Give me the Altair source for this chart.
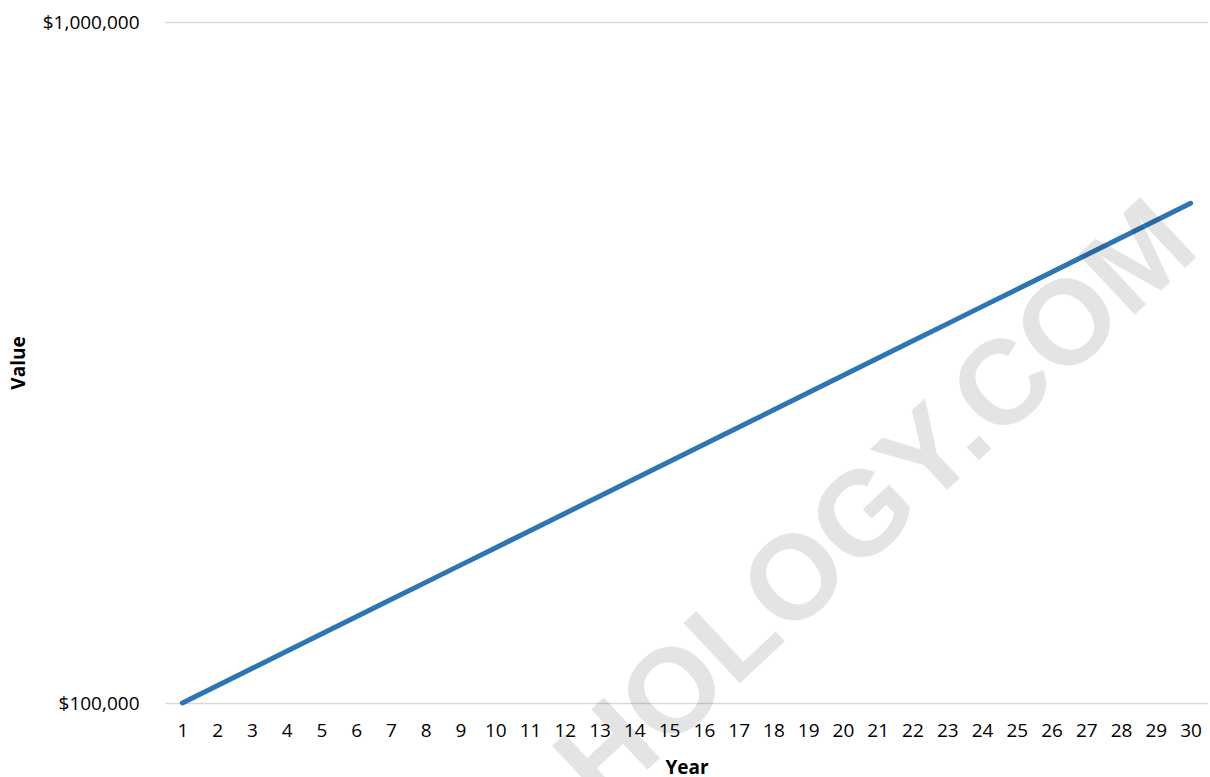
import altair as alt
import pandas as pd

years = list(range(1, 31))
values = [100000, 106000, 112360, 119102, 126248, 133823, 141852, 150363, 159385, 168948,
          179085, 189830, 201220, 213293, 226090, 239656, 254035, 269277, 285434, 302560,
          320714, 339956, 360354, 381975, 404893, 429187, 454938, 482235, 511169, 541839]
y_ticks = [100000, 1000000]

wm_text = ["HOLOGY.COM"]
wm_year = [21]
wm_value = [195000]

df = pd.DataFrame({"Year": years, "Value": values})
wm = pd.DataFrame({"Year": wm_year, "Value": wm_value, "t": wm_text})

FONT = "Open Sans"

x_enc = alt.X("Year:O", title="Year",
              scale=alt.Scale(type="point", padding=0.5, domain=years),
              axis=alt.Axis(labelAngle=0, grid=False, domain=False, ticks=False,
                            labelPadding=18, labelFontSize=19, labelFont=FONT,
                            labelColor="#000000", titleFont=FONT, titleFontSize=19,
                            titleFontWeight="bold", titleColor="#000000", titlePadding=18))
y_enc = alt.Y("Value:Q", title="Value",
              scale=alt.Scale(type="log", domain=[100000, 1000000], nice=False),
              axis=alt.Axis(values=y_ticks, format="$,.0f", grid=True, gridColor="#d9d9d9",
                            gridWidth=1.3, domain=False, ticks=False, labelPadding=26,
                            labelFontSize=19, labelFont=FONT, labelColor="#000000",
                            titleFont=FONT, titleFontSize=19, titleFontWeight="bold",
                            titleColor="#000000", titlePadding=14))

line = alt.Chart(df).mark_line(color="#2e75b6", strokeWidth=5, strokeCap="round").encode(
    x=x_enc, y=y_enc)

mark_wm = alt.Chart(wm).mark_text(
    font="Liberation Sans", fontWeight="bold", fontSize=120, angle=317,
    color="#000000", opacity=0.1, align="center", baseline="middle").encode(
    x=alt.X("Year:O", scale=alt.Scale(type="point", padding=0.5, domain=years)),
    y=alt.Y("Value:Q", scale=alt.Scale(type="log", domain=[100000, 1000000], nice=False)),
    text="t:N")

chart = alt.layer(line, mark_wm).properties(
    width=1043, height=681,
    background="white",
    autosize=alt.AutoSizeParams(type="none"),
    padding={"left": 165, "top": 22, "right": 2, "bottom": 74},
).configure_view(strokeWidth=0, stroke="transparent")

chart.save("out.html", embed_options={"renderer": "svg", "actions": False})
